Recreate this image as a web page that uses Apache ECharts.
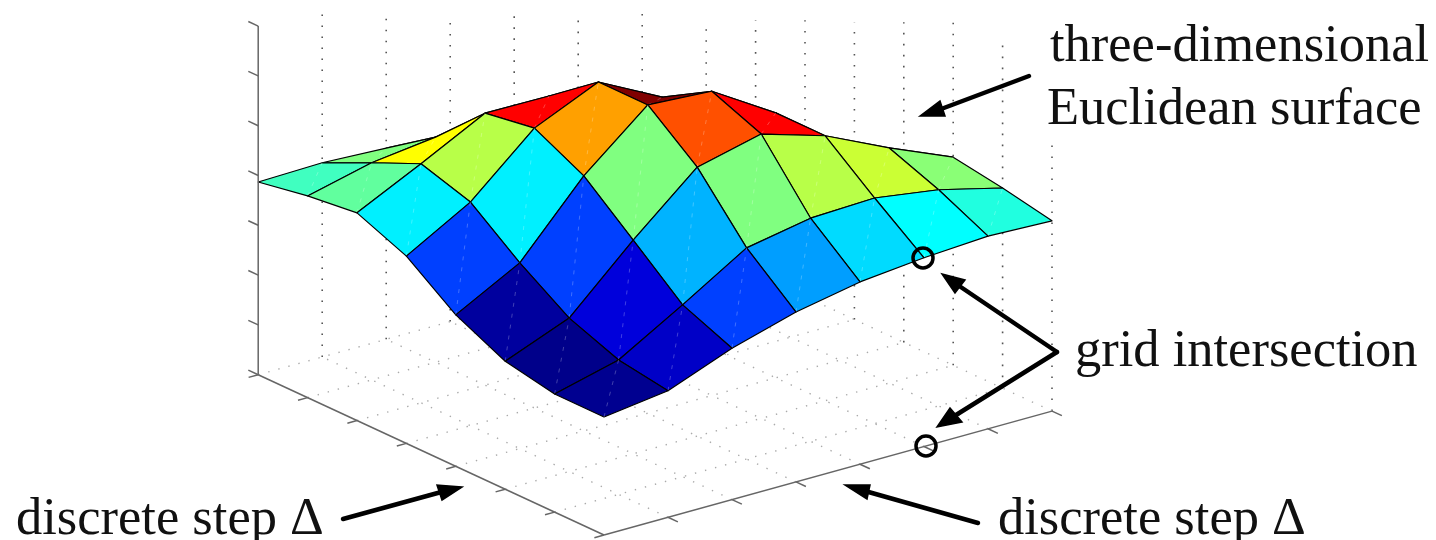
<!DOCTYPE html>
<html>
<head>
<meta charset="utf-8">
<title>discrete surface</title>
<script src="https://cdn.jsdelivr.net/npm/echarts@6/dist/echarts.min.js"></script>
<style>
html, body { margin: 0; padding: 0; background: #fff; }
#main { width: 1436px; height: 540px; filter: blur(0.5px); }
</style>
</head>
<body>
<div id="main"></div>
<script>
// surface height at each grid node, one row per step along the left floor edge
var heightsRow0 = [2.37, 2.54, 3.04, 3.41, 3.66, 3.79, 3.87, 3.82];
var heightsRow1 = [2.37, 2.70, 3.45, 4.24, 4.48, 4.53, 4.34, 4.02];
var heightsRow2 = [2.57, 3.08, 4.29, 5.40, 5.71, 5.32, 4.72, 4.18];
var heightsRow3 = [3.04, 3.73, 5.12, 6.19, 6.11, 5.32, 4.18, 3.55];
var heightsRow4 = [3.76, 4.49, 5.62, 6.19, 5.53, 4.56, 3.76, 3.01];
var heightsRow5 = [4.17, 4.80, 5.46, 5.45, 4.81, 3.96, 3.19, 2.55];
var heightsRow6 = [4.05, 4.36, 4.52, 4.51, 4.05, 3.30, 2.64, 1.98];
var heightsRow7 = [3.87, 3.90, 3.84, 3.65, 3.19, 2.53, 1.88, 1.22];
var heights = [heightsRow0, heightsRow1, heightsRow2, heightsRow3, heightsRow4, heightsRow5, heightsRow6, heightsRow7];

// colormap position of each face (0 = navy, 1 = dark red)
var levelsRow0 = [0.016, 0.07, 0.1875, 0.28, 0.34, 0.375, 0.406];
var levelsRow1 = [0.01, 0.09, 0.30, 0.50, 0.555, 0.574, 0.51];
var levelsRow2 = [0.03, 0.1875, 0.50, 0.797, 0.875, 0.60, 0.50];
var levelsRow3 = [0.1875, 0.36, 0.7185, 1, 0.70, 0.55, 0.45];
var levelsRow4 = [0.36, 0.555, 0.875, 0.80, 0.60, 0.45, 0.35];
var levelsRow5 = [0.47, 0.625, 0.70, 0.60, 0.45, 0.35, 0.30];
var levelsRow6 = [0.4375, 0.50, 0.55, 0.45, 0.35, 0.30, 0.25];
var levels = [levelsRow0, levelsRow1, levelsRow2, levelsRow3, levelsRow4, levelsRow5, levelsRow6];

var jetColors = ['#000080', '#0000ff', '#0080ff', '#00ffff', '#80ff80', '#ffff00', '#ff8000', '#ff0000', '#800000'];

var gridSteps = [0, 1, 2, 3, 4, 5, 6, 7];
var heightTicks = [0, 1, 2, 3, 4, 5, 6, 7];
// how far up the wall each dotted line is still visible
var leftWallTops = [6.91, 6.48, 6.06, 5.81, 5.37, 5.14, 4.64];
var rightWallTops = [5.09, 5.55, 5.97, 6.43, 6.89, 6.89, 5.34];

// projection of (a, b, z) into the hidden axes
function projX(a, b) { return 64 * b - 49.4 * a; }
function projY(a, b, z) { return 22.9 * a + 17.7 * b + 49.8 * z; }

function coordOf(api, a, b, z) {
    return api.coord([projX(a, b), projY(a, b, z)]);
}

// ---- build the series data ----
var faces = [];
for (var a = 0; a < 7; a++) {
    for (var b = 0; b < 7; b++) {
        faces.push([a, b, levels[a][b]]);
    }
}
// far faces first, so the near ones paint over them
faces.sort(function(p, q) { return (q[0] + q[1]) - (p[0] + p[1]); });

var floorLines = [];
var axisLines = [];
var wallLines = [];
gridSteps.forEach(function(s) {
    if (s > 0) {
        floorLines.push([s, 0, 0, s, 7, 0]);
        floorLines.push([0, s, 0, 7, s, 0]);
        axisLines.push([s, 0, 0, s, -0.15, 0]);
        axisLines.push([0, s, 0, -0.2, s, 0]);
    }
});
axisLines.push([7, 0, 0, 0, 0, 0]);
axisLines.push([0, 0, 0, 0, 7, 0]);
axisLines.push([7, 0, 0, 7, 0, 7]);
axisLines.push([0, 0, 0, 0, -0.15, 0]);
heightTicks.forEach(function(t) {
    axisLines.push([7, 0, t, 7.2, 0, t]);
});
leftWallTops.forEach(function(top, i) {
    wallLines.push([7, i + 1, 0, 7, i + 1, top]);
});
rightWallTops.forEach(function(top, i) {
    wallLines.push([6 - i, 7, 0, 6 - i, 7, top]);
});

function lineSeries(name, segments, style) {
    return {
        name: name,
        type: 'custom',
        coordinateSystem: 'cartesian2d',
        silent: true,
        animation: false,
        clip: false,
        data: segments,
        renderItem: function(params, api) {
            var p = coordOf(api, api.value(0), api.value(1), api.value(2));
            var q = coordOf(api, api.value(3), api.value(4), api.value(5));
            return {
                type: 'line',
                shape: { x1: p[0], y1: p[1], x2: q[0], y2: q[1] },
                style: style
            };
        }
    };
}

var surfaceSeries = {
    name: 'surface',
    type: 'custom',
    coordinateSystem: 'cartesian2d',
    silent: true,
    animation: false,
    clip: false,
    data: faces,
    renderItem: function(params, api) {
        var a = api.value(0), b = api.value(1);
        var corners = [[a, b], [a, b + 1], [a + 1, b + 1], [a + 1, b]].map(function(c) {
            return coordOf(api, c[0], c[1], heights[c[0]][c[1]]);
        });
        return {
            type: 'group',
            children: [{
                type: 'polygon',
                shape: { points: corners },
                style: { fill: api.visual('color'), stroke: '#000', lineWidth: 1.2, lineJoin: 'round' }
            }, {
                // faint seam along each face diagonal
                type: 'line',
                shape: { x1: corners[0][0], y1: corners[0][1], x2: corners[2][0], y2: corners[2][1] },
                style: { stroke: 'rgba(255,255,255,0.25)', lineWidth: 1, lineDash: [4, 7] }
            }]
        };
    }
};

var option = {
    backgroundColor: '#fff',
    animation: false,
    grid: { left: 0, right: 0, top: 0, bottom: 0 },
    xAxis: { type: 'value', min: -604, max: 832, show: false },
    yAxis: { type: 'value', min: -5, max: 535, show: false },
    visualMap: {
        show: false,
        type: 'continuous',
        seriesIndex: 2,
        dimension: 2,
        min: 0,
        max: 1,
        inRange: { color: jetColors }
    },
    series: [
        lineSeries('walls', wallLines, { stroke: '#555', lineWidth: 1.6, lineDash: [1.6, 9.4] }),
        lineSeries('floor', floorLines, { stroke: '#aaa', lineWidth: 1.4, lineDash: [1.4, 9] }),
        surfaceSeries,
        lineSeries('axes', axisLines, { stroke: '#666', lineWidth: 1.5 })
    ],
    graphic: [
        label('three-dimensional', 1050, 63),
        label('Euclidean surface', 1047, 126),
        label('grid intersection', 1075, 368),
        label('discrete step \u0394', 16, 536),
        label('discrete step \u0394', 998, 536),
        arrow([1029, 76], [920, 116], [940, 101], [945, 116]),
        arrow([1057, 352], [942, 274], [965, 280], [955, 293]),
        arrow([1057, 352], [937, 427], [950, 408], [962, 422]),
        arrow([343, 519], [462, 487], [437, 485], [442, 500]),
        arrow([978, 523], [845, 485], [870, 485], [867, 499]),
        ring(923, 258),
        ring(926, 446)
    ].reduce(function(all, g) { return all.concat(g); }, [])
};

function label(text, x, baseline) {
    return {
        type: 'text',
        x: x,
        y: baseline - 42,
        z: 10,
        silent: true,
        style: {
            text: text,
            font: '52.5px "Liberation Serif"',
            fill: '#111'
        }
    };
}

function arrow(tail, tip, wingA, wingB) {
    return [{
        type: 'line',
        z: 10,
        silent: true,
        shape: { x1: tail[0], y1: tail[1], x2: (wingA[0] + wingB[0]) / 2, y2: (wingA[1] + wingB[1]) / 2 },
        style: { stroke: '#000', lineWidth: 4.5, lineCap: 'round' }
    }, {
        type: 'polygon',
        z: 10,
        silent: true,
        shape: { points: [tip, wingA, wingB] },
        style: { fill: '#000', stroke: '#000', lineWidth: 1.5 }
    }];
}

function ring(x, y) {
    return {
        type: 'circle',
        z: 10,
        silent: true,
        shape: { cx: x, cy: y, r: 10 },
        style: { fill: 'none', stroke: '#000', lineWidth: 3.5 }
    };
}

var myChart = echarts.init(document.getElementById('main'), null, { renderer: 'canvas' });
myChart.setOption(option);
</script>
</body>
</html>
